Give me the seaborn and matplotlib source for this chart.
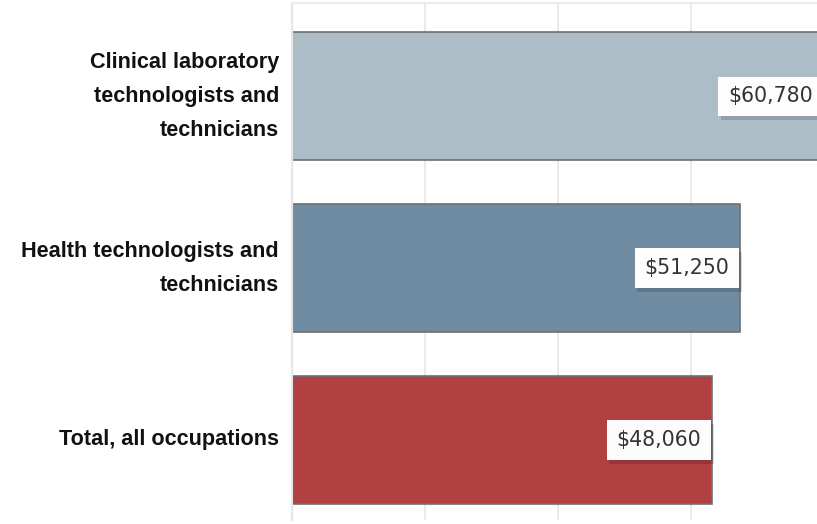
import matplotlib
matplotlib.use("Agg")
import matplotlib.pyplot as plt
import matplotlib.patheffects as pe
import seaborn as sns
import pandas as pd

categories = [
    "Clinical laboratory\ntechnologists and\ntechnicians",
    "Health technologists and\ntechnicians",
    "Total, all occupations",
]
wages = [60780, 51250, 48060]
value_labels = ["$60,780", "$51,250", "$48,060"]
bar_colors = ["#adbdc8", "#6f8ca3", "#b14043"]
grid_ticks = [0, 15200, 30400, 45600, 60800]

df = pd.DataFrame({"occupation": categories, "wage": wages})

sns.set_style("white")
fig = plt.figure(figsize=(8.17, 5.24), dpi=100)
ax = fig.add_axes([291.5 / 817, 4 / 524, 1 - 291.5 / 817, 517 / 524])

sns.barplot(data=df, x="wage", y="occupation", hue="occupation",
            palette=bar_colors, legend=False, orient="h", width=0.745,
            edgecolor="#707070", linewidth=1.2, saturation=1, ax=ax, zorder=2)

ax.set_xticks(grid_ticks)
ax.set_xlim(0, 60000)
ax.set_ylim(2.466, -0.544)
ax.xaxis.grid(True, color="#ebebeb", linewidth=1.5, zorder=0)
ax.set_axisbelow(True)
ax.tick_params(axis="x", length=0, labelbottom=False)
ax.tick_params(axis="y", length=0, pad=9)
ax.set_xlabel("")
ax.set_ylabel("")
for s in ["right", "bottom"]:
    ax.spines[s].set_visible(False)
ax.spines["left"].set_color("#e6e6e6")
ax.spines["left"].set_linewidth(1.5)
ax.spines["top"].set_color("#ececec")
ax.spines["top"].set_linewidth(1.5)

for lbl in ax.get_yticklabels():
    lbl.set_fontfamily("Liberation Sans")
    lbl.set_fontweight("bold")
    lbl.set_fontsize(15.6)
    lbl.set_color("#111111")
    lbl.set_linespacing(1.82)
    lbl.set_horizontalalignment("right")
    lbl.set_verticalalignment("center")
    lbl.set_multialignment("right")

for i, (v, t) in enumerate(zip(wages, value_labels)):
    txt = ax.annotate(t, xy=(v, i), xytext=(-8, 0), textcoords="offset points",
                      ha="right", va="center", fontsize=14.8,
                      fontfamily="DejaVu Sans", color="#333333", zorder=5,
                      annotation_clip=False,
                      bbox=dict(boxstyle="square,pad=0.48", fc="white",
                                ec="none", alpha=0.9))
    txt.get_bbox_patch().set_path_effects([
        pe.withSimplePatchShadow(offset=(2, -3), shadow_rgbFace="black", alpha=0.15),
        pe.Normal()])

fig.savefig("out.png", dpi=100)
